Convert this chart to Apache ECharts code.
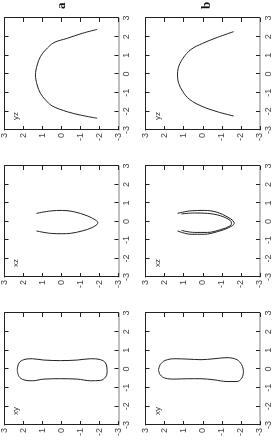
<!DOCTYPE html>
<html><head><meta charset="utf-8">
<script src="https://cdn.jsdelivr.net/npm/echarts@6/dist/echarts.min.js"></script>
<style>
html,body{margin:0;padding:0;width:273px;height:441px;overflow:hidden;background:#fff}
#c{position:absolute;left:0;top:0;width:441px;height:273px;transform-origin:0 0;transform:translate(0px,441px) rotate(-90deg);}
</style></head><body><div id="c"></div>
<script>
// Tick values shared by all panels
var ticks = [-3, -2, -1, 0, 1, 2, 3];
var panelNames = ['xy', 'xz', 'yz'];
var rowNames = ['a', 'b'];

// Row a projections
var xyA = [[-0.04,2.33],[0.32,2.24],[0.50,1.98],[0.55,1.54],[0.48,0.93],[0.45,0.05],[0.48,-0.83],[0.55,-1.53],[0.50,-2.05],[0.32,-2.32],[-0.13,-2.40],[-0.43,-2.32],[-0.61,-2.05],[-0.63,-1.53],[-0.54,-0.83],[-0.52,0.05],[-0.54,0.93],[-0.63,1.54],[-0.58,1.98],[-0.40,2.24],[-0.04,2.33]];
var xzA = [[0.44,1.32],[0.57,0.58],[0.60,-0.04],[0.53,-0.65],[0.31,-1.35],[0.08,-1.79],[-0.05,-1.91],[-0.15,-1.88],[-0.33,-1.61],[-0.51,-1.09],[-0.64,-0.47],[-0.66,-0.04],[-0.64,0.58],[-0.51,1.32]];
var yzA = [[2.39,-1.88],[2.18,-1.09],[1.91,-0.30],[1.68,0.40],[1.29,0.84],[0.93,1.11],[0.48,1.28],[-0.05,1.37],[-0.59,1.28],[-1.03,1.11],[-1.39,0.84],[-1.71,0.49],[-2.02,-0.30],[-2.20,-1.00],[-2.37,-1.88]];

// Row b projections
var xyB = [[-0.04,2.32],[0.23,2.23],[0.46,1.97],[0.55,1.46],[0.53,0.78],[0.50,0.09],[0.55,-0.59],[0.61,-1.27],[0.50,-1.79],[0.23,-2.04],[-0.13,-2.13],[-0.50,-2.04],[-0.67,-1.79],[-0.67,-1.27],[-0.58,-0.59],[-0.52,0.09],[-0.52,0.78],[-0.54,1.46],[-0.49,1.97],[-0.31,2.23],[-0.04,2.32]];
var xzBOuter = [[0.44,1.32],[0.58,0.61],[0.60,-0.08],[0.50,-0.76],[0.26,-1.27],[0.05,-1.58],[-0.10,-1.65],[-0.33,-1.36],[-0.55,-0.76],[-0.69,-0.08],[-0.69,0.61],[-0.51,1.32]];
var xzBInner = [[0.41,1.12],[0.46,0.44],[0.44,-0.25],[0.31,-0.93],[0.06,-1.44],[-0.10,-1.50],[-0.24,-1.44],[-0.44,-0.93],[-0.59,-0.25],[-0.59,0.44],[-0.48,1.12]];
var yzB = [[2.27,-1.62],[1.96,-0.76],[1.64,0.01],[1.32,0.61],[0.84,1.04],[0.30,1.29],[-0.05,1.32],[-0.50,1.26],[-0.95,1.04],[-1.36,0.69],[-1.71,0.09],[-2.02,-0.76],[-2.25,-1.62]];

var panelSeries = [
  [[xyA], [xzA], [yzA]],
  [[xyB], [xzBOuter, xzBInner], [yzB]]
];

var rows = [{top: 4, height: 114.5}, {top: 145.5, height: 117.5}];
var cols = [{left: 16, width: 112}, {left: 164, width: 111}, {left: 311, width: 112}];

var grids = [], xAxes = [], yAxes = [], series = [], graphics = [];
var font = 'Liberation Sans, Arial, sans-serif';
var tickCommon = {show: true, inside: true, length: 4, lineStyle: {color: '#222', width: 1}};
function axisBase(extra) {
  var a = {type: 'value', min: ticks[0], max: ticks[ticks.length - 1], interval: 1,
    splitLine: {show: false}, axisTick: tickCommon,
    axisLine: {show: true, onZero: false, lineStyle: {color: '#222', width: 1}}};
  for (var k in extra) a[k] = extra[k];
  return a;
}
var g = 0;
for (var r = 0; r < 2; r++) {
  for (var c = 0; c < 3; c++) {
    grids.push({left: cols[c].left, top: rows[r].top, width: cols[c].width, height: rows[r].height});
    xAxes.push(axisBase({gridIndex: g, position: 'bottom',
      axisLine: {show: true, onZero: false, lineStyle: {color: '#aaa', width: 1.6}},
      axisLabel: {show: true, margin: 4, fontSize: 9, color: '#444', fontFamily: font}}));
    xAxes.push(axisBase({gridIndex: g, position: 'top', axisLabel: {show: false}}));
    yAxes.push(axisBase({gridIndex: g, position: 'left',
      axisLabel: {show: true, margin: 3, fontSize: 9, color: '#444', fontFamily: font}}));
    yAxes.push(axisBase({gridIndex: g, position: 'right', axisLabel: {show: false}}));
    var list = panelSeries[r][c];
    for (var s = 0; s < list.length; s++) {
      series.push({type: 'line', xAxisIndex: 2 * g, yAxisIndex: 2 * g, data: list[s],
        smooth: 0.35, showSymbol: false, symbol: 'none', silent: true,
        lineStyle: {color: '#222', width: 1}});
    }
    graphics.push({type: 'text', left: cols[c].left + 10, top: rows[r].top + 8,
      style: {text: panelNames[c], fontSize: 8, fill: '#333', font: '8px ' + font}});
    g++;
  }
  graphics.push({type: 'text', left: 432, top: rows[r].top + (r === 0 ? 51 : 55),
    style: {text: rowNames[r], fill: '#111', font: 'bold 13px Liberation Serif, Times New Roman, serif'}});
}

var chart = echarts.init(document.getElementById('c'), null, {renderer: 'canvas', width: 441, height: 273});
chart.setOption({
  animation: false,
  backgroundColor: '#fff',
  grid: grids, xAxis: xAxes, yAxis: yAxes, series: series, graphic: graphics
});
</script></body></html>
